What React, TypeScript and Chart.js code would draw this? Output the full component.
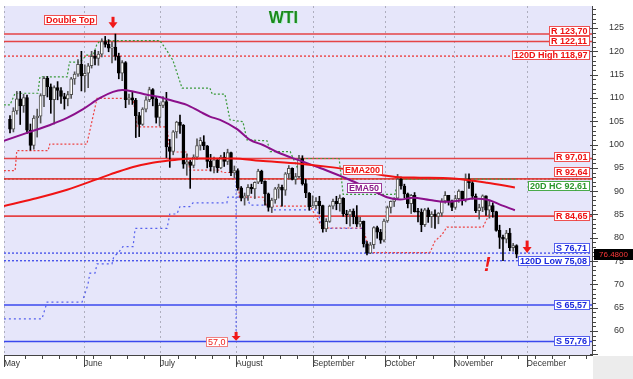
import React, { useEffect, useRef } from 'react';
import { Chart, registerables } from 'chart.js';

Chart.register(...registerables);

// ---------- DATA ----------
// one candle per weekday, May 2 ... Nov 25 (x = weekday index)
const opens = [105.4,103.3,107.2,109.8,108.3,110.1,103.1,99.8,105.7,106.1,110.5,114.2,112.4,109.6,112.2,111.6,110.3,109.8,110.7,114.1,
  115.1,117.2,114.7,115.3,116.9,118.9,118.5,119.4,122.1,121.5,120.7,120.9,118.9,115.3,117.6,109.6,110.0,109.5,106.2,104.3,
  107.6,109.6,111.8,109.8,105.8,108.4,109.2,99.5,98.5,102.7,104.8,104.1,95.8,96.3,95.5,97.3,99.8,100.6,99.7,96.4,
  95.2,96.7,95.0,97.3,96.4,98.3,93.9,94.4,90.7,88.5,89.0,90.8,90.5,91.9,94.3,92.1,89.4,86.5,88.1,90.5,
  90.8,90.2,93.7,94.9,92.5,93.1,97.0,91.6,89.6,86.6,86.9,87.8,86.9,81.9,83.5,86.8,87.8,87.3,88.5,85.1,
  84.9,85.7,84.5,82.9,83.5,78.7,76.7,78.5,82.2,81.2,79.5,83.6,86.5,87.8,88.5,92.6,91.1,89.4,87.3,89.1,
  85.6,85.5,82.8,86.0,84.5,85.1,84.6,85.3,87.9,89.1,87.9,86.5,88.4,90.0,88.2,92.6,91.8,88.9,85.8,86.5,
  89.0,85.9,86.9,85.6,81.6,80.1,79.7,81.0,77.9,78.3];
const highs = [106.2,107.9,111.4,111.4,110.8,110.6,104.4,106.2,107.6,110.9,114.6,114.6,113.0,112.6,113.5,112.2,111.0,111.4,114.4,115.6,
  118.2,120.0,117.1,117.4,120.0,120.2,120.0,122.7,123.2,122.5,122.0,123.7,119.6,118.0,117.8,110.8,111.4,109.9,106.9,107.9,
  110.3,112.3,112.0,110.1,108.9,110.3,111.2,101.1,103.0,105.0,106.3,104.3,98.0,96.6,97.8,101.2,101.5,101.9,99.8,97.9,
  97.3,97.0,97.7,98.3,99.0,98.4,95.4,94.8,91.0,89.6,91.4,91.5,92.0,94.7,94.5,92.2,89.6,88.5,90.8,91.5,
  91.3,94.0,95.5,95.0,93.8,97.7,97.6,92.5,89.7,89.0,88.6,88.9,87.0,84.1,87.0,88.3,88.9,89.2,88.6,85.9,
  86.1,86.2,86.9,84.4,83.6,79.2,79.0,82.4,82.5,81.8,84.0,86.8,87.9,88.6,93.6,93.0,91.5,89.6,89.3,89.7,
  86.3,86.2,86.3,86.4,85.6,86.0,85.4,88.4,89.9,89.1,88.1,89.1,90.3,90.0,93.7,93.7,92.3,89.4,87.2,89.2,
  89.0,88.1,87.5,85.7,82.7,80.6,81.6,82.0,78.8,78.5];
const lows = [102.5,102.7,106.5,104.3,106.9,102.4,98.8,99.0,101.6,104.6,108.1,110.2,106.7,104.4,109.6,108.8,107.6,108.3,109.9,112.9,
  114.6,111.5,111.3,112.2,116.4,117.1,117.0,118.8,120.9,119.9,117.5,118.1,114.1,113.7,107.9,108.6,108.6,101.5,101.7,104.1,
  107.0,109.2,108.3,104.6,104.0,107.9,97.2,95.1,97.8,101.4,102.4,94.9,93.4,90.6,95.0,96.8,98.8,98.9,95.0,94.3,
  93.9,94.0,94.8,95.3,95.7,93.3,92.9,90.2,87.9,87.0,88.0,89.5,88.4,91.6,91.6,87.0,85.7,85.4,87.4,88.5,
  86.8,89.1,92.6,92.4,91.5,92.8,91.3,88.6,85.9,86.5,86.2,85.1,81.2,81.3,83.3,86.2,86.0,85.7,84.6,83.0,
  82.5,83.0,82.4,82.4,78.0,76.3,76.6,77.7,79.9,78.8,79.1,83.3,85.3,86.7,88.4,90.4,88.6,86.4,85.2,85.5,
  83.4,81.3,82.4,83.3,82.2,82.0,83.0,84.6,87.4,87.0,85.8,86.1,87.6,87.0,87.7,90.6,88.3,85.4,84.0,85.6,
  84.8,84.2,84.4,81.4,77.7,75.1,78.9,77.2,77.1,75.7];
const closes = [103.3,107.2,109.8,108.3,110.1,103.1,99.8,105.7,106.1,110.5,114.2,112.4,109.6,112.2,111.6,110.3,109.8,110.7,114.1,115.1,
  117.2,114.7,115.3,116.9,118.9,118.5,119.4,122.1,121.5,120.7,120.9,118.9,115.3,117.6,109.6,110.0,109.5,106.2,104.3,107.6,
  109.6,111.8,109.8,105.8,108.4,109.2,99.5,98.5,102.7,104.8,104.1,95.8,96.3,95.5,97.3,99.8,100.9,99.7,96.4,95.2,
  96.7,95.0,97.3,96.4,98.3,93.9,94.4,90.7,88.5,89.0,90.8,90.5,91.9,94.3,92.1,89.4,86.5,88.1,90.5,90.8,
  90.2,93.7,94.9,92.5,93.1,97.0,91.6,89.6,86.6,86.9,87.8,86.9,81.9,83.5,86.8,87.8,87.3,88.5,85.1,84.9,
  85.7,84.5,82.9,83.5,78.7,76.7,78.5,82.2,81.2,79.5,83.6,86.5,87.8,88.5,92.6,91.1,89.4,87.3,89.1,85.6,
  85.5,82.8,86.0,84.5,85.1,84.6,85.3,87.9,89.1,87.9,86.5,88.4,90.0,88.2,92.6,91.8,88.9,85.8,86.5,89.0,
  85.9,86.9,85.6,81.6,80.1,79.7,81.0,77.9,78.3,76.48];

const monthLabels = ['May', 'June', 'July', 'August', 'September', 'October', 'November', 'December'];
const monthPositions = [-1.765, 21.8, 44.1, 66.5, 89.1, 110.3, 130.6, 152];
const yTickValues = [60, 65, 70, 75, 80, 85, 90, 95, 100, 105, 110, 115, 120, 125];

const ema50X = [-1.8, 5, 11.8, 16.8, 21.5, 26.5, 30.3, 33, 36.2, 40.3, 44, 46.2, 52, 56, 58.8, 61.8, 66.8, 70.6, 74.4, 78.5, 82.4, 86.2, 90.3, 95, 100, 105, 110.9, 114.7, 118.5, 123.5, 128.4, 133.2, 136.2, 141.2, 144.1, 148.5];
const ema50Y = [100.8, 102.5, 104.2, 105.7, 107.6, 110.0, 111.3, 111.7, 111.4, 110.7, 110.2, 109.7, 108.5, 107.0, 106.0, 105.3, 103.3, 101.0, 99.9, 98.4, 97.3, 96.3, 95.2, 93.9, 92.4, 90.7, 88.7, 88.2, 88.6, 88.1, 87.7, 88.1, 88.4, 88.0, 87.1, 85.9];
const ema200X = [-1.8, 6.8, 16.8, 26.5, 31.5, 36.2, 41.2, 46.2, 50.9, 55.9, 65.6, 73.5, 85.3, 95, 105, 114.7, 120.6, 130.3, 140.3, 148.5];
const ema200Y = [86.8, 88.3, 90.3, 92.8, 94.1, 95.2, 96.0, 96.5, 96.9, 97.0, 97.0, 96.5, 95.9, 95.1, 94.0, 93.0, 92.9, 92.7, 91.8, 90.8];

const high20X = [-1.8, 0, 1.5, 8.2, 8.8, 16.8, 17.5, 20.6, 22.6, 24.5, 25.5, 26.5, 44.1, 46, 47.9, 50.6, 58.8, 59.5, 63.2, 64.7, 68.5, 69.7, 75.6, 76.5, 82.4, 84.4, 85.3, 96.8, 98, 113.2, 114.2, 149];
const high20Y = [108.5, 108.5, 111.0, 111.0, 114.5, 114.5, 117.7, 117.7, 119.2, 119.2, 121.4, 122.3, 122.3, 120.3, 118.1, 112.1, 112.1, 110.8, 110.8, 105.3, 104.9, 101.0, 100.8, 98.5, 98.5, 95.2, 97.0, 97.0, 89.3, 89.3, 92.6, 92.6];
const low20X = [-1.8, 1.5, 2, 11.2, 11.7, 22.6, 25.6, 36.2, 37.4, 46.2, 47, 52, 52.9, 61.8, 62.5, 66.8, 67.5, 74.4, 75.5, 88.2, 92, 103.8, 106, 123.5, 125, 127, 128.5, 139.1, 141.2];
const low20Y = [94.4, 94.4, 98.7, 98.7, 100.1, 100.1, 109.9, 109.9, 103.8, 103.8, 98.4, 98.4, 94.5, 94.5, 94.0, 94.0, 88.7, 88.7, 86.8, 86.8, 82.1, 82.1, 76.8, 76.8, 79.3, 80.6, 82.3, 82.3, 85.4];
const lowBlueX = [-1.8, 9.4, 10.9, 21.2, 22.9, 23.5, 25, 25.6, 30, 30.5, 32, 33.2, 36.2, 36.8, 46.2, 47, 49.1, 50, 52.9, 53.8, 63.8, 64.1, 69.7, 70.6, 76.5, 77.4, 90.3, 92, 103.8, 105];
const lowBlueY = [62.6, 62.6, 66.2, 66.2, 69.9, 72.4, 72.4, 74.4, 74.4, 75.9, 76.9, 78.1, 78.1, 82.0, 82.0, 85.1, 85.1, 86.7, 86.7, 87.5, 87.5, 88.7, 88.7, 87.0, 87.0, 86.0, 86.0, 82.0, 82.0, 76.7];

const levelValues = [123.70, 122.11, 118.97, 97.01, 92.64, 92.61, 84.65, 76.71, 75.08, 65.57, 57.76];
const levelTexts = ['R 123,70', 'R 122,11', '120D High 118,97', 'R 97,01', 'R 92,64', '20D HC 92,61', 'R 84,65', 'S 76,71', '120D Low 75,08', 'S 65,57', 'S 57,76'];
const levelKinds = ['res', 'res', 'resDot', 'res', 'res', 'hcDot', 'res', 'supDot', 'supDot', 'sup', 'sup'];

const markerX = 66.5; // August marker
const markerTop = 93.9;
const markerBottom = 58.6;

const annoBoxes = [
  { text: 'Double Top', x: 17.9, y: 126.78, kind: 'red' },
  { text: 'EMA200', x: 103.7, y: 94.54, kind: 'red' },
  { text: 'EMA50', x: 104.4, y: 90.61, kind: 'purple' },
  { text: '57,0', x: 60.8, y: 57.64, kind: 'redThin' },
];
const arrows = [
  { x: 30.3, top: 127.4, tip: 124.94 },
  { x: 152.1, top: 79.4, tip: 76.75 },
  { x: 66.5, top: 59.8, tip: 57.9 },
];
const titleText = { text: 'WTI', x: 80.4, y: 127.08 };
const bangText = { text: '!', x: 140.4, y: 74.16 };

// ---------- STYLE ----------
const X_MIN = -1.765, X_MAX = 171.18, Y_MIN = 54.85, Y_MAX = 129.72;
const FONT = "'Liberation Sans', Arial, sans-serif";
const LEVEL_STYLE: Record<string, any> = {
  res: { color: 'rgba(228,50,50,0.9)', dash: [], width: 1.6, text: '#ee1111', box: '#ee5050' },
  resDot: { color: 'rgba(235,60,60,0.9)', dash: [2, 2], width: 1.5, text: '#ee1111', box: '#ee5050' },
  hcDot: { color: '#3a9a3a', dash: [2, 2], width: 1.2, text: '#2a962a', box: '#4aaa4a' },
  supDot: { color: '#4a55ea', dash: [2, 2], width: 1.4, text: '#1a28dd', box: '#5560ee' },
  sup: { color: '#3a48ee', dash: [], width: 1.6, text: '#1a28dd', box: '#5560ee' },
};
const LABEL_NUDGE: Record<number, number> = { 0: -3.5, 3: -1.8, 4: -7, 5: 6.7, 7: -5, 2: -1 };
const BOX_STYLE: Record<string, any> = {
  red: { text: '#ee1111', box: '#ee5050', bold: true },
  purple: { text: '#8a1a8a', box: '#9a3a9a', bold: true },
  redThin: { text: '#ee2222', box: '#f08080', bold: false },
};

function drawBox(ctx: CanvasRenderingContext2D, text: string, cx: number, cy: number, st: any, rightEdge?: number) {
  ctx.font = `${st.bold ? 'bold ' : ''}9px ${FONT}`;
  const w = Math.ceil(ctx.measureText(text).width) + 4;
  const h = 10;
  const left = rightEdge !== undefined ? rightEdge - w : Math.round(cx - w / 2);
  const top = Math.round(cy - h / 2);
  ctx.fillStyle = '#ffffff';
  ctx.fillRect(left, top, w, h);
  ctx.strokeStyle = st.box;
  ctx.lineWidth = 1;
  ctx.setLineDash([]);
  ctx.strokeRect(left + 0.5, top + 0.5, w - 1, h - 1);
  ctx.fillStyle = st.text;
  ctx.textAlign = 'left';
  ctx.textBaseline = 'middle';
  ctx.fillText(text, left + 2, top + h / 2 + 0.5);
}

const decorPlugin = {
  id: 'decor',
  beforeDraw(chart: any) {
    const { ctx, chartArea: a, width, height } = chart;
    ctx.save();
    ctx.fillStyle = '#ffffff';
    ctx.fillRect(0, 0, width, height);
    ctx.fillStyle = '#e6e6fa';
    ctx.fillRect(a.left, a.top, a.right - a.left, a.bottom - a.top);
    ctx.fillStyle = '#ececec';
    ctx.fillRect(a.right + 1, a.bottom + 1, width - a.right, height - a.bottom);
    ctx.restore();
  },
  beforeDatasetsDraw(chart: any) {
    const { ctx, chartArea: a, scales } = chart;
    ctx.save();
    ctx.strokeStyle = '#aeaebe';
    ctx.lineWidth = 1;
    ctx.setLineDash([2, 3]);
    monthPositions.forEach((v) => {
      const px = Math.round(scales.x.getPixelForValue(v)) + 0.5;
      ctx.beginPath();
      ctx.moveTo(px, a.top);
      ctx.lineTo(px, a.bottom);
      ctx.stroke();
    });
    ctx.restore();
  },
  afterDatasetsDraw(chart: any) {
    const { ctx, chartArea: a, scales, width } = chart;
    const xs = scales.x, ys = scales.y;
    ctx.save();
    // axes
    ctx.setLineDash([]);
    ctx.strokeStyle = '#444';
    ctx.lineWidth = 1;
    ctx.beginPath();
    ctx.moveTo(a.left, a.bottom + 0.5);
    ctx.lineTo(a.right + 1, a.bottom + 0.5);
    ctx.moveTo(a.right + 0.5, a.top);
    ctx.lineTo(a.right + 0.5, a.bottom + 1);
    ctx.stroke();
    // y ticks
    ctx.beginPath();
    for (let v = Math.ceil(Y_MIN); v <= Y_MAX; v++) {
      const py = Math.round(ys.getPixelForValue(v)) + 0.5;
      if (v % 5 === 0) { ctx.moveTo(a.right - 2, py); ctx.lineTo(a.right + 6, py); }
      else { ctx.moveTo(a.right, py); ctx.lineTo(a.right + 4, py); }
    }
    // x ticks
    monthPositions.forEach((v) => {
      const px = Math.round(xs.getPixelForValue(v)) + 0.5;
      ctx.moveTo(px, a.bottom);
      ctx.lineTo(px, a.bottom + 12);
    });
    for (let k = 1; 5 * k - 0.5 < X_MAX; k++) {
      const v = 5 * k - 0.5;
      if (monthPositions.some((m) => Math.abs(m - v) < 2)) continue;
      const px = Math.round(xs.getPixelForValue(v)) + 0.5;
      ctx.moveTo(px, a.bottom);
      ctx.lineTo(px, a.bottom + 4);
    }
    ctx.stroke();

    // level labels
    levelValues.forEach((v, i) => {
      const st = LEVEL_STYLE[levelKinds[i]];
      const cy = ys.getPixelForValue(v) + (LABEL_NUDGE[i] || 0);
      drawBox(ctx, levelTexts[i], 0, cy, { text: st.text, box: st.box, bold: true }, a.right - 2);
    });

    // annotation boxes
    annoBoxes.forEach((b) => {
      drawBox(ctx, b.text, xs.getPixelForValue(b.x), ys.getPixelForValue(b.y), BOX_STYLE[b.kind]);
    });

    // arrows
    ctx.fillStyle = '#f01818';
    arrows.forEach((ar) => {
      const px = xs.getPixelForValue(ar.x);
      const top = ys.getPixelForValue(ar.top);
      const tip = ys.getPixelForValue(ar.tip);
      const headH = Math.min(6, (tip - top) * 0.55);
      ctx.fillRect(px - 1.5, top, 3, tip - top - headH + 0.5);
      ctx.beginPath();
      ctx.moveTo(px - 4.5, tip - headH);
      ctx.lineTo(px + 4.5, tip - headH);
      ctx.lineTo(px, tip);
      ctx.closePath();
      ctx.fill();
    });

    // title
    ctx.font = `bold 16px ${FONT}`;
    ctx.textAlign = 'center';
    ctx.textBaseline = 'middle';
    ctx.fillStyle = '#b8f0d8';
    ctx.fillText(titleText.text, xs.getPixelForValue(titleText.x) + 1, ys.getPixelForValue(titleText.y) + 1);
    ctx.fillStyle = '#1a8a1a';
    ctx.fillText(titleText.text, xs.getPixelForValue(titleText.x), ys.getPixelForValue(titleText.y));

    // exclamation
    ctx.font = `italic bold 20px ${FONT}`;
    ctx.fillStyle = '#f01818';
    ctx.fillText(bangText.text, xs.getPixelForValue(bangText.x), ys.getPixelForValue(bangText.y));

    // current price tag
    const last = closes[closes.length - 1];
    const py = ys.getPixelForValue(last);
    ctx.fillStyle = '#000000';
    ctx.fillRect(a.right + 2, Math.round(py - 5.5), width - a.right - 2, 11);
    ctx.fillStyle = '#ff3a3a';
    ctx.font = `8px ${FONT}`;
    ctx.textAlign = 'center';
    ctx.fillText(last.toFixed(4), (a.right + 2 + width) / 2, py + 0.5);
    ctx.restore();
  },
};

function pts(xs: number[], ys: number[]) {
  return xs.map((x, i) => ({ x, y: ys[i] }));
}

export default function App() {
  const ref = useRef<HTMLCanvasElement | null>(null);
  useEffect(() => {
    document.body.style.margin = '0';
    const canvas = ref.current;
    if (!canvas) return;
    const up = closes.map((c, i) => c >= opens[i]);

    const levelSets = levelValues.map((v, i) => {
      const st = LEVEL_STYLE[levelKinds[i]];
      return {
        type: 'line',
        data: [{ x: X_MIN, y: v }, { x: X_MAX, y: v }],
        borderColor: st.color,
        borderWidth: st.width,
        borderDash: st.dash,
        pointRadius: 0,
        order: 20,
      };
    });

    const datasets: any[] = [
      ...levelSets,
      { type: 'line', data: pts(high20X, high20Y), borderColor: '#3a9a3a', borderWidth: 1.2, borderDash: [2, 2], pointRadius: 0, order: 15 },
      { type: 'line', data: pts(low20X, low20Y), borderColor: '#ee4444', borderWidth: 1.2, borderDash: [2, 2], pointRadius: 0, order: 15 },
      { type: 'line', data: pts(lowBlueX, lowBlueY), borderColor: '#5560ee', borderWidth: 1.2, borderDash: [2, 3], pointRadius: 0, order: 15 },
      { type: 'line', data: [{ x: markerX, y: markerTop }, { x: markerX, y: markerBottom }], borderColor: '#4a55ee', borderWidth: 1, borderDash: [2, 2], pointRadius: 0, order: 15 },
      {
        type: 'bar',
        data: highs.map((h, i) => ({ x: i, y: [lows[i], h] })),
        backgroundColor: up.map((u) => (u ? '#555555' : '#000000')),
        borderWidth: 0,
        barThickness: 1,
        grouped: false,
        minBarLength: 1,
        order: 6,
      },
      {
        type: 'bar',
        data: opens.map((o, i) => ({ x: i, y: [o, closes[i]] })),
        backgroundColor: up.map((u) => (u ? '#ffffff' : '#000000')),
        borderColor: up.map((u) => (u ? '#505050' : '#000000')),
        borderWidth: 1,
        borderSkipped: false,
        barThickness: 3,
        grouped: false,
        minBarLength: 1,
        order: 5,
      },
      { type: 'line', data: pts(ema200X, ema200Y), borderColor: '#f01414', borderWidth: 2, pointRadius: 0, cubicInterpolationMode: 'monotone', order: 1 },
      { type: 'line', data: pts(ema50X, ema50Y), borderColor: '#8b108b', borderWidth: 2, pointRadius: 0, cubicInterpolationMode: 'monotone', order: 1 },
    ];

    const chart = new Chart(canvas, {
      type: 'bar',
      data: { datasets },
      options: {
        animation: false,
        responsive: false,
        devicePixelRatio: 1,
        events: [],
        layout: { padding: { left: 4, top: 6, right: 9, bottom: 0 } },
        plugins: { legend: { display: false }, tooltip: { enabled: false }, title: { display: false } },
        scales: {
          x: {
            type: 'linear',
            min: X_MIN,
            max: X_MAX,
            offset: false,
            grid: { display: false, drawTicks: false, tickLength: 0 },
            border: { display: false },
            afterBuildTicks: (s: any) => { s.ticks = monthPositions.map((v) => ({ value: v })); },
            afterFit: (s: any) => { s.height = 24; },
            ticks: {
              autoSkip: false,
              maxRotation: 0,
              minRotation: 0,
              align: 'start',
              padding: 4,
              color: '#333333',
              font: { family: FONT, size: 8.5 },
              callback: (_v: any, i: number) => monthLabels[i],
            },
          },
          y: {
            type: 'linear',
            position: 'right',
            min: Y_MIN,
            max: Y_MAX,
            grid: { display: false, drawTicks: false, tickLength: 0 },
            border: { display: false },
            afterBuildTicks: (s: any) => { s.ticks = yTickValues.map((v) => ({ value: v })); },
            afterFit: (s: any) => { s.width = 32; },
            ticks: {
              crossAlign: 'far',
              padding: 0,
              color: '#333333',
              font: { family: FONT, size: 9 },
              callback: (v: any) => String(v),
            },
          },
        },
      } as any,
      plugins: [decorPlugin],
    });
    return () => chart.destroy();
  }, []);

  return (
    <div style={{ width: 633, height: 379 }}>
      <canvas ref={ref} width={633} height={379} style={{ display: 'block' }} />
    </div>
  );
}
